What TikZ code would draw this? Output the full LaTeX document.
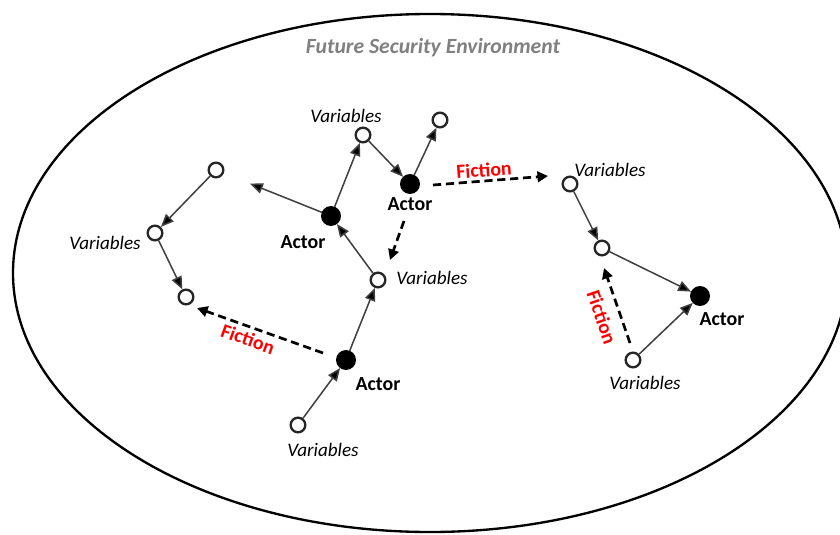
\documentclass[tikz,border=0pt]{standalone}
\usepackage{fontspec}
\setmainfont{Carlito}
\usetikzlibrary{arrows.meta,calc}

\tikzset{
  var/.style={circle, draw=black!85, line width=2pt, fill=white, minimum size=12.5pt, inner sep=0pt},
  act/.style={circle, draw=black, line width=1pt, fill=black, minimum size=16pt, inner sep=0pt},
  link/.style={draw=black!75, line width=1.3pt, -{Triangle[length=11pt,width=9pt,fill=black]}},
  fiction/.style={draw=black, line width=2.3pt, dash pattern=on 7pt off 4pt,
                  -{Triangle[length=9pt,width=9pt,fill=black]}},
  varlbl/.style={font=\fontsize{16.3}{18}\selectfont\itshape, inner sep=1pt},
  actlbl/.style={font=\fontsize{17}{19}\selectfont\bfseries, inner sep=1pt},
  fictlbl/.style={font=\fontsize{17}{19}\selectfont\bfseries, text=red, inner sep=1pt},
  title/.style={font=\fontsize{18.5}{21}\selectfont\bfseries\itshape, text=black!50}
}

\begin{document}
\begin{tikzpicture}[x=0.03cm, y=-0.03cm]
  \clip (0,0) rectangle (840,535);

  % environment boundary
  \draw[line width=2pt] (430,273) ellipse [x radius=417, y radius=259];
  \node[title] (ttl) at (433,48) {Future Security Environment};

  % left cluster
  \node[var] (l1) at (216,170) {};
  \node[var] (l2) at (155,233) {};
  \node[var] (l3) at (186,297) {};
  \node[varlbl] (l2t) at (105,243) {Variables};

  % central cluster
  \node[act] (a1) at (331,216) {};
  \node[actlbl] (a1t) at (303,242) {Actor};
  \node[var] (v1) at (363,135) {};
  \node[varlbl] (v1t) at (346,116) {Variables};
  \node[act] (a2) at (410,184) {};
  \node[actlbl] (a2t) at (410,204) {Actor};
  \node[var] (v2) at (440,120) {};
  \node[var] (v3) at (378,280) {};
  \node[varlbl] (v3t) at (432,278) {Variables};
  \node[act] (a3) at (346,360) {};
  \node[actlbl] (a3t) at (378,384) {Actor};
  \node[var] (v4) at (298,425) {};
  \node[varlbl] (v4t) at (323,450) {Variables};

  % right cluster
  \node[var] (r1) at (570,184) {};
  \node[varlbl] (r1t) at (610,170) {Variables};
  \node[var] (r2) at (602,248) {};
  \node[act] (a4) at (700,296) {};
  \node[actlbl] (a4t) at (722,319) {Actor};
  \node[var] (r3) at (633,360) {};
  \node[varlbl] (r3t) at (645,383) {Variables};

  % solid influence links
  \draw[link] (l1) -- (l2);
  \draw[link] (l2) -- (l3);
  \draw[link, shorten >=24pt] (a1) -- (l1);
  \draw[link] (a1) -- (v1);
  \draw[link] (v1) -- (a2);
  \draw[link] (a2) -- (v2);
  \draw[link] (v3) -- (a1);
  \draw[link] (a3) -- (v3);
  \draw[link] (v4) -- (a3);
  \draw[link] (r1) -- (r2);
  \draw[link] (r2) -- (a4);
  \draw[link] (r3) -- (a4);

  % dashed fiction links
  \coordinate (f1a) at ($(a2)+(-6,37)$);
  \coordinate (f1b) at ($(v3)+(12,-20)$);
  \draw[fiction] (f1a) -- (f1b);

  \coordinate (f2a) at ($(a3)+(-23,-7)$);
  \coordinate (f2b) at ($(l3)+(11,11)$);
  \draw[fiction] (f2a) -- (f2b);
  \node[fictlbl, rotate=-20] (f2t) at (248,339) {Fiction};

  \coordinate (f3a) at ($(a2)+(23,1)$);
  \coordinate (f3b) at ($(r1)+(-22,-8)$);
  \draw[fiction] (f3a) -- (f3b);
  \node[fictlbl, rotate=4] (f3t) at (484,170) {Fiction};

  \coordinate (f4a) at ($(r3)+(-3,-17)$);
  \coordinate (f4b) at ($(r2)+(2,20)$);
  \draw[fiction] (f4a) -- (f4b);
  \node[fictlbl, rotate=-71] (f4t) at (602,317) {Fiction};
\end{tikzpicture}
\end{document}
